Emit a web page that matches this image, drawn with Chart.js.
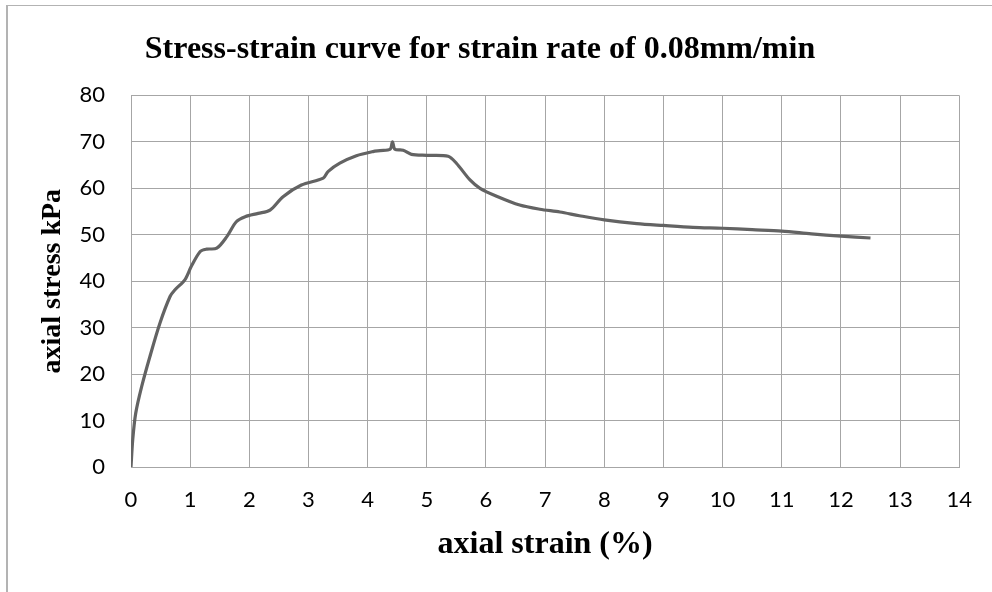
<!DOCTYPE html>
<html>
<head>
<meta charset="utf-8">
<script src="https://cdn.jsdelivr.net/npm/chart.js@4"></script>
<style>
  html, body { margin: 0; padding: 0; background: #fff; }
  #wrap { width: 992px; height: 592px; position: relative; }
</style>
</head>
<body>
<div id="wrap"><canvas id="grafico"></canvas></div>
<script>
// strain (%) and stress (kPa)
const deformacao = [0, 0.03, 0.08, 0.18, 0.32, 0.49, 0.66, 0.74, 0.91, 1.02, 1.17, 1.28, 1.45, 1.62, 1.78, 1.93,
  2.15, 2.35, 2.57, 2.88, 3.25, 3.33, 3.53, 3.81, 4.09, 4.21, 4.38, 4.42, 4.46, 4.60, 4.74, 5.0, 5.36,
  5.50, 5.73, 5.90, 6.18, 6.57, 6.91, 7.25, 7.58, 8.0, 8.55, 9.0, 9.5, 10.0, 10.5, 11.0, 11.5, 12.0, 12.5];
const tensao = [0, 6, 11.6, 17.3, 23.8, 31.0, 36.7, 38.1, 40.3, 43.2, 46.4, 46.9, 47.1, 49.6, 52.8, 53.9,
  54.6, 55.3, 58.2, 60.7, 62.2, 63.6, 65.4, 67.0, 67.9, 68.1, 68.4, 70.0, 68.4, 68.2, 67.3, 67.1, 66.9,
  65.4, 61.8, 60.0, 58.3, 56.4, 55.5, 54.9, 54.1, 53.2, 52.4, 52.0, 51.6, 51.4, 51.1, 50.8, 50.2, 49.7, 49.3];
const ticksX = [0, 1, 2, 3, 4, 5, 6, 7, 8, 9, 10, 11, 12, 13, 14];
const ticksY = [0, 10, 20, 30, 40, 50, 60, 70, 80];

const pontos = deformacao.map((x, i) => ({ x: x, y: tensao[i] }));

// frame around the picture (top and left edges only)
const moldura = {
  id: 'moldura',
  afterDraw(chart) {
    const ctx = chart.ctx;
    ctx.save();
    ctx.fillStyle = '#b3b3b3';
    ctx.fillRect(6, 5, 986, 1);
    ctx.fillRect(6, 5, 2, 587);
    ctx.restore();
  }
};

const corGrade = '#a6a6a6';

new Chart(document.getElementById('grafico').getContext('2d'), {
  type: 'line',
  data: {
    datasets: [{
      data: pontos,
      borderColor: '#636363',
      borderWidth: 3.2,
      pointRadius: 0,
      tension: 0.3,
      fill: false
    }]
  },
  options: {
    responsive: true,
    maintainAspectRatio: false,
    animation: false,
    layout: { padding: { left: 0, right: 32, top: 0, bottom: 0 } },
    plugins: {
      legend: { display: false },
      tooltip: { enabled: false },
      title: {
        display: true,
        text: 'Stress-strain curve for strain rate of 0.08mm/min',
        color: '#000',
        font: { family: "'Liberation Serif', 'Times New Roman', serif", size: 32, weight: 'bold', lineHeight: 1.2 },
        padding: { top: 31, bottom: 26 }
      }
    },
    scales: {
      x: {
        type: 'linear',
        min: 0,
        max: 14,
        afterBuildTicks: (s) => { s.ticks = ticksX.map(v => ({ value: v })); },
        afterFit: (s) => { s.height = 125; },
        grid: { color: corGrade, drawTicks: false },
        border: { color: corGrade },
        ticks: {
          color: '#000',
          padding: 20,
          maxRotation: 0,
          font: { family: "Lato, 'Open Sans', sans-serif", size: 22 }
        },
        title: {
          display: true,
          text: 'axial strain (%)',
          color: '#000',
          font: { family: "'Liberation Serif', 'Times New Roman', serif", size: 32, weight: 'bold', lineHeight: 1.2 },
          padding: { top: 0, bottom: 28 }
        }
      },
      y: {
        min: 0,
        max: 80,
        afterBuildTicks: (s) => { s.ticks = ticksY.map(v => ({ value: v })); },
        afterFit: (s) => { s.width = 131; },
        grid: { color: corGrade, drawTicks: false },
        border: { color: corGrade },
        ticks: {
          color: '#000',
          padding: 26,
          font: { family: "Lato, 'Open Sans', sans-serif", size: 22 }
        },
        title: {
          display: true,
          text: 'axial stress kPa',
          color: '#000',
          font: { family: "'Liberation Serif', 'Times New Roman', serif", size: 28, weight: 'bold', lineHeight: 1.2 },
          padding: { top: 36, bottom: 0 }
        }
      }
    }
  },
  plugins: [moldura]
});
</script>
</body>
</html>
